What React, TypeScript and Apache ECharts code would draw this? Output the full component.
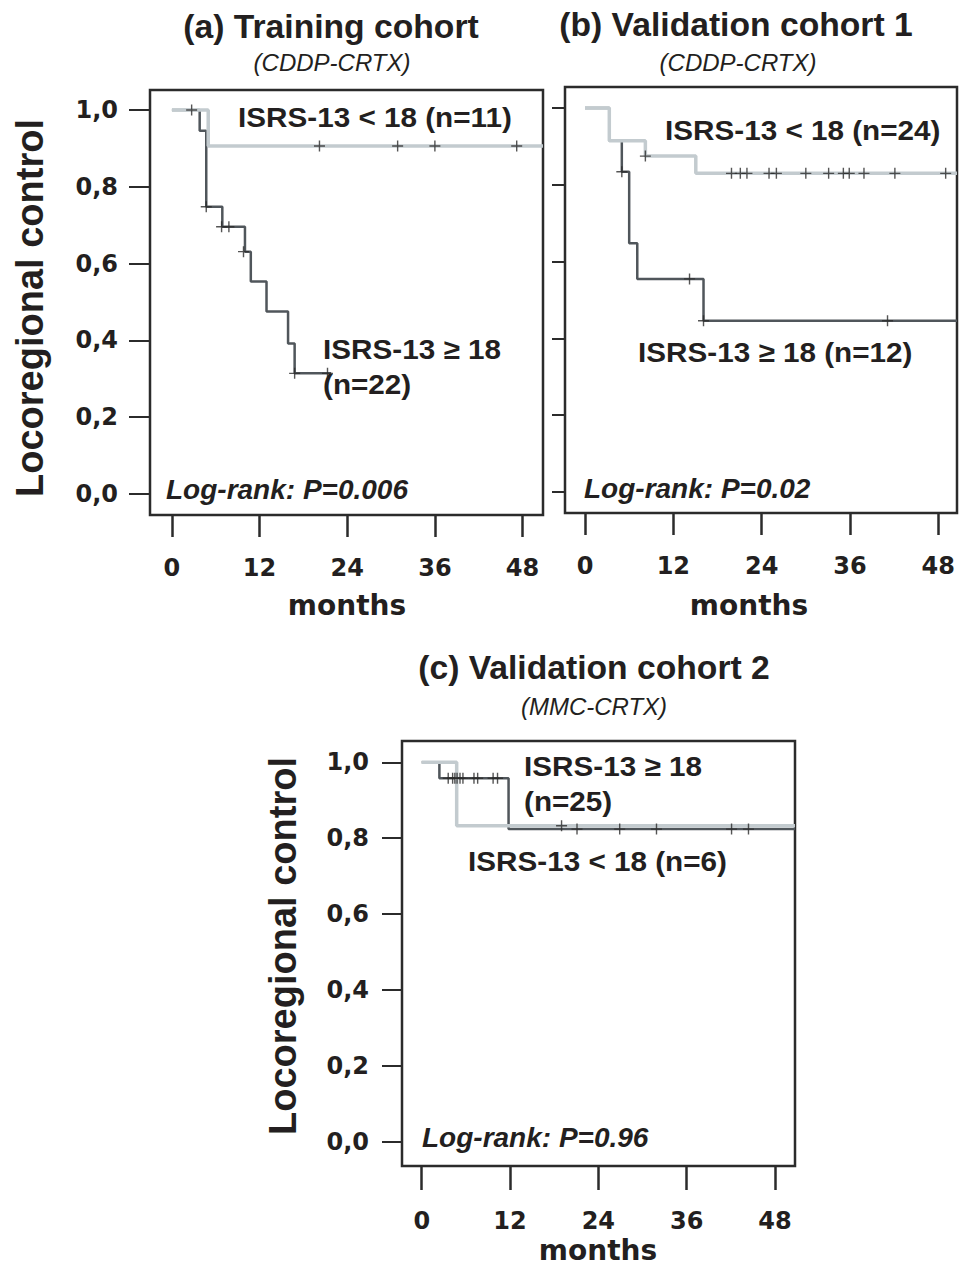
import React, { useEffect, useRef } from "react";
import * as echarts from "echarts";

// ---------- data ----------
const xTickValues = [0, 12, 24, 36, 48];
const xTickLabels = ["0", "12", "24", "36", "48"];
const yTickValues = [0, 0.2, 0.4, 0.6, 0.8, 1.0];
const yTickLabels = ["0,0", "0,2", "0,4", "0,6", "0,8", "1,0"];

// (a) Training cohort
const aHighTimes = [0, 3.8, 4.7, 6.9, 10.0, 10.8, 12.95, 15.9, 16.8, 21.8];
const aHighSurv = [1, 0.946, 0.748, 0.696, 0.631, 0.553, 0.475, 0.392, 0.314, 0.314];
const aHighCensT = [4.7, 6.8, 7.8, 9.8, 16.8, 21.3];
const aHighCensS = [0.748, 0.696, 0.696, 0.631, 0.314, 0.314];
const aLowTimes = [0, 4.97, 50.8];
const aLowSurv = [1, 0.906, 0.906];
const aLowCensT = [2.7, 20.2, 30.9, 36.0, 47.2];
const aLowCensS = [1, 0.906, 0.906, 0.906, 0.906];

// (b) Validation cohort 1
const bHighTimes = [0, 3.3, 5.0, 6.0, 7.1, 16.1, 50.54];
const bHighSurv = [1, 0.915, 0.834, 0.648, 0.555, 0.446, 0.446];
const bHighCensT = [5.0, 14.2, 16.1, 41.1];
const bHighCensS = [0.834, 0.555, 0.446, 0.446];
const bLowTimes = [0, 3.3, 8.2, 15.05, 50.54];
const bLowSurv = [1, 0.915, 0.875, 0.83, 0.83];
const bLowCensT = [8.2, 19.9, 21.1, 22.0, 25.0, 26.0, 30.0, 33.1, 35.1, 35.9, 37.9, 42.1, 49.0];
const bLowCensS = [0.875, 0.83, 0.83, 0.83, 0.83, 0.83, 0.83, 0.83, 0.83, 0.83, 0.83, 0.83, 0.83];

// (c) Validation cohort 2
const cHighTimes = [0, 2.4, 11.8, 50.72];
const cHighSurv = [1, 0.958, 0.824, 0.824];
const cHighCensT = [3.6, 4.2, 4.5, 4.8, 5.2, 5.6, 7.1, 7.6, 9.7, 10.3, 21.1, 26.9, 31.9, 42.1, 44.4];
const cHighCensS = [0.958, 0.958, 0.958, 0.958, 0.958, 0.958, 0.958, 0.958, 0.958, 0.958, 0.824, 0.824, 0.824, 0.824, 0.824];
const cLowTimes = [0, 4.75, 50.72];
const cLowSurv = [1, 0.833, 0.833];
const cLowCensT = [19.0];
const cLowCensS = [0.833];

const titles = ["(a) Training cohort", "(b) Validation cohort 1", "(c) Validation cohort 2"];
const subtitles = ["(CDDP-CRTX)", "(CDDP-CRTX)", "(MMC-CRTX)"];
const pValues = ["Log-rank: P=0.006", "Log-rank: P=0.02", "Log-rank: P=0.96"];

// ---------- styling ----------
const TXT = "#231f20";
const LIGHT = "#c3cbcf";
const DARK = "#50565b";
const SANS = "'Liberation Sans', Arial, sans-serif";
const DV = "'DejaVu Sans', sans-serif";
const PLUS = "path://M0,4.8H11V6.2H0Z M4.8,0H6.2V11H4.8Z";

const zip = (a: number[], b: number[]) => a.map((v, i) => [v, b[i]]);

export default function App() {
  const ref = useRef<HTMLDivElement>(null);
  useEffect(() => {
    document.body.style.margin = "0";
    if (!ref.current) return;
    const chart = echarts.init(ref.current, null, { renderer: "svg" });

    const grids = [
      { left: 150, top: 90, width: 393, height: 425 },
      { left: 565, top: 87, width: 392, height: 426 },
      { left: 402, top: 741, width: 393, height: 425 },
    ];
    const xRanges = [
      [-3, 50.8],
      [-2.72, 50.54],
      [-2.68, 50.72],
    ];
    const yRanges = [
      [-0.055, 1.052],
      [-0.055, 1.055],
      [-0.063, 1.056],
    ];
    const yTickLen = [21, 13, 20];
    const yLabMargin = [32, 32, 33];
    const xLabMargin = [41, 41, 43];
    const xTickLen = [22, 22, 24];

    const panels = [
      { hi: [aHighTimes, aHighSurv, aHighCensT, aHighCensS], lo: [aLowTimes, aLowSurv, aLowCensT, aLowCensS] },
      { hi: [bHighTimes, bHighSurv, bHighCensT, bHighCensS], lo: [bLowTimes, bLowSurv, bLowCensT, bLowCensS] },
      { hi: [cHighTimes, cHighSurv, cHighCensT, cHighCensS], lo: [cLowTimes, cLowSurv, cLowCensT, cLowCensS] },
    ];

    const series: any[] = [];
    panels.forEach((p, i) => {
      series.push({
        type: "line", step: "end", xAxisIndex: i, yAxisIndex: i, symbol: "none",
        data: zip(p.hi[0], p.hi[1]), lineStyle: { color: DARK, width: 2.5 }, z: 3,
      });
      series.push({
        type: "line", step: "end", xAxisIndex: i, yAxisIndex: i, symbol: "none",
        data: zip(p.lo[0], p.lo[1]), lineStyle: { color: LIGHT, width: 3.5 }, z: 4,
      });
      series.push({
        type: "scatter", xAxisIndex: i, yAxisIndex: i, symbol: PLUS, symbolSize: 11,
        data: zip(p.hi[2], p.hi[3]), itemStyle: { color: "#2a2a2a" }, z: 5,
      });
      series.push({
        type: "scatter", xAxisIndex: i, yAxisIndex: i, symbol: PLUS, symbolSize: 11,
        data: zip(p.lo[2], p.lo[3]), itemStyle: { color: "#2a2a2a" }, z: 5,
      });
    });

    const textEl = (text: string, x: number, y: number, font: string, align = "left", extra: any = {}) => ({
      type: "text", x, y, z: 100, ...extra,
      style: { text, font, fill: TXT, align, verticalAlign: "middle" },
    });
    const LEG = `bold 28px ${SANS}`;
    const legX = { scaleX: 1.06 };

    const graphic: any[] = [
      textEl(titles[0], 331, 27, `bold 33px ${SANS}`, "center", { scaleX: 1.02 }),
      textEl(titles[1], 736, 25, `bold 33px ${SANS}`, "center", { scaleX: 1.02 }),
      textEl(titles[2], 594, 668, `bold 33px ${SANS}`, "center", { scaleX: 1.02 }),
      textEl(subtitles[0], 332, 62, `italic 24px ${SANS}`, "center"),
      textEl(subtitles[1], 738, 62, `italic 24px ${SANS}`, "center"),
      textEl(subtitles[2], 594, 706, `italic 24px ${SANS}`, "center"),
      textEl("ISRS-13 < 18 (n=11)", 238, 117, LEG, "left", legX),
      textEl("ISRS-13 ≥ 18", 323, 349, LEG, "left", legX),
      textEl("(n=22)", 323, 384, LEG, "left", legX),
      textEl("ISRS-13 < 18 (n=24)", 665, 130, LEG, "left", legX),
      textEl("ISRS-13 ≥ 18 (n=12)", 638, 352, LEG, "left", legX),
      textEl("ISRS-13 ≥ 18", 524, 766, LEG, "left", legX),
      textEl("(n=25)", 524, 801, LEG, "left", legX),
      textEl("ISRS-13 < 18 (n=6)", 468, 861, LEG, "left", legX),
      textEl(pValues[0], 166, 489, `italic bold 28px ${SANS}`),
      textEl(pValues[1], 584, 488, `italic bold 28px ${SANS}`),
      textEl(pValues[2], 422, 1137, `italic bold 28px ${SANS}`),
      textEl("Locoregional control", 30, 308, `bold 38px ${SANS}`, "center", { rotation: Math.PI / 2 }),
      textEl("Locoregional control", 283, 946, `bold 38px ${SANS}`, "center", { rotation: Math.PI / 2 }),
      textEl("months", 347, 605, `bold 28px ${DV}`, "center"),
      textEl("months", 749, 605, `bold 28px ${DV}`, "center"),
      textEl("months", 598, 1250, `bold 28px ${DV}`, "center"),
    ];

    chart.setOption({
      animation: false,
      backgroundColor: "#ffffff",
      grid: grids.map((g) => ({ ...g, show: true, borderColor: "#2b2b2b", borderWidth: 2.5, backgroundColor: "transparent" })),
      xAxis: grids.map((_, i) => ({
        type: "value", gridIndex: i, min: xRanges[i][0], max: xRanges[i][1], position: "bottom",
        axisLine: { show: false, onZero: false }, splitLine: { show: false },
        axisTick: { show: true, inside: false, length: xTickLen[i], customValues: xTickValues, lineStyle: { color: "#2b2b2b", width: 2.5 } },
        axisLabel: {
          customValues: xTickValues, margin: xLabMargin[i], color: TXT,
          fontFamily: DV, fontWeight: "bold", fontSize: 24,
          formatter: (v: number) => xTickLabels[xTickValues.indexOf(v)] ?? "",
        },
      })),
      yAxis: grids.map((_, i) => ({
        type: "value", gridIndex: i, min: yRanges[i][0], max: yRanges[i][1], position: "left",
        axisLine: { show: false, onZero: false }, splitLine: { show: false },
        axisTick: { show: true, inside: false, length: yTickLen[i], customValues: yTickValues, lineStyle: { color: "#2b2b2b", width: 2 } },
        axisLabel: {
          show: i !== 1, customValues: yTickValues, margin: yLabMargin[i], color: TXT,
          fontFamily: DV, fontWeight: "bold", fontSize: 24,
          formatter: (v: number) => {
            const k = yTickValues.findIndex((t) => Math.abs(t - v) < 1e-6);
            return k >= 0 ? yTickLabels[k] : "";
          },
        },
      })),
      series,
      graphic,
    });
    return () => chart.dispose();
  }, []);
  return <div ref={ref} style={{ width: 960, height: 1268 }} />;
}
